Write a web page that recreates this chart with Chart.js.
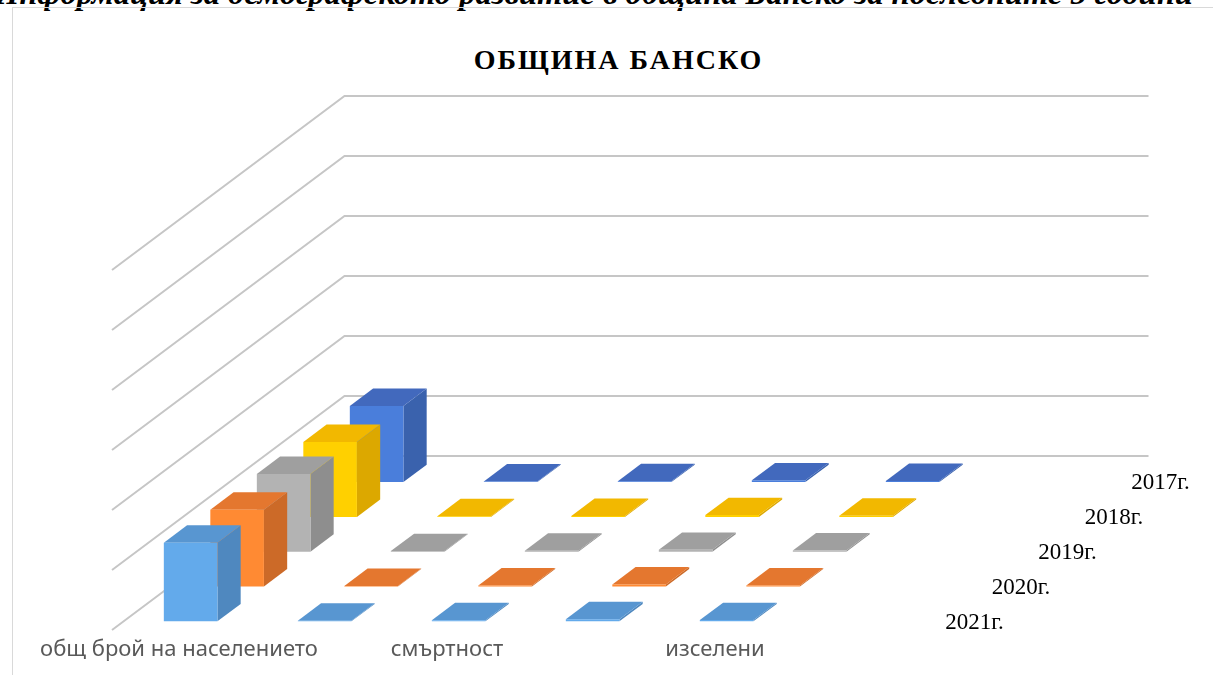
<!DOCTYPE html>
<html>
<head>
<meta charset="utf-8">
<script src="https://cdn.jsdelivr.net/npm/chart.js@4.4.1/dist/chart.umd.min.js"></script>
<style>
    html, body { margin: 0; padding: 0; background: #fff; overflow: hidden; }
    #page { position: relative; width: 1213px; height: 675px; overflow: hidden; }
    #heading { position: absolute; left: -6px; top: -25px; line-height: 33px; white-space: nowrap; font: bold italic 32.5px "Liberation Serif", serif; color: #000; }
    #frame { position: absolute; left: 12px; top: 7px; width: 1300px; height: 800px; border: 1px solid #d9d9d9; }
    #title { position: absolute; left: 0; width: 1237px; top: 44px; line-height: 28px; text-align: center; letter-spacing: 2px; font: bold 28px "Liberation Serif", serif; color: #000; }
    canvas { position: absolute; left: 0; top: 0; }
</style>
</head>
<body>
<div id="page">
    <div id="heading">Информация за демографското развитие в община Банско за последните 5 години</div>
    <div id="frame"></div>
    <div id="title">ОБЩИНА БАНСКО</div>
    <canvas id="chart" width="1213" height="675"></canvas>
</div>
<script>
// categories (only every second one is labelled in the original)
const categories = ['общ брой на населението', 'раждаемост', 'смъртност', 'заселени', 'изселени', 'механичен прираст'];
const years = ['2017г.', '2018г.', '2019г.', '2020г.', '2021г.'];

// values per year, same order as categories
const v2017 = [12700, 115, 150, 290, 200, null];
const v2018 = [12500, 110, 160, 300, 190, null];
const v2019 = [12950, 105, 155, 310, 210, null];
const v2020 = [12800, 100, 175, 350, 180, null];
const v2021 = [13100, 105, 190, 340, 200, null];
const series = [v2017, v2018, v2019, v2020, v2021];

// face colours: front / side / top
const frontColors = ['#4a7edb', '#ffd000', '#b3b3b3', '#ff8a33', '#63aaeb'];
const sideColors = ['#3a62ad', '#dca800', '#8e8e8e', '#cc6a28', '#4f88bf'];
const topColors = ['#4269bd', '#f2b800', '#9f9f9f', '#e4772f', '#5896d1'];

// oblique projection: one depth row moves right and up
const DX = 46.5, DY = -34.8;
const DEPTH = years.length;

function poly(ctx, pts, color) {
    ctx.beginPath();
    ctx.moveTo(pts[0][0], pts[0][1]);
    for (let i = 1; i < pts.length; i++) ctx.lineTo(pts[i][0], pts[i][1]);
    ctx.closePath();
    ctx.fillStyle = color;
    ctx.fill();
}

function drawBox(ctx, x0, x1, yTop, yBase, dF, dB, i) {
    const fx = dF * DX, fy = dF * DY, bx = dB * DX, by = dB * DY;
    poly(ctx, [[x1 + fx, yTop + fy], [x1 + bx, yTop + by], [x1 + bx, yBase + by], [x1 + fx, yBase + fy]], sideColors[i]);
    poly(ctx, [[x0 + fx, yTop + fy], [x1 + fx, yTop + fy], [x1 + bx, yTop + by], [x0 + bx, yTop + by]], topColors[i]);
    poly(ctx, [[x0 + fx, yTop + fy], [x1 + fx, yTop + fy], [x1 + fx, yBase + fy], [x0 + fx, yBase + fy]], frontColors[i]);
}

const walls3d = {
    id: 'walls3d',
    beforeDatasetsDraw(chart) {
        const ctx = chart.ctx;
        const { left, right } = chart.chartArea;
        const y = chart.scales.y;
        let values = (y.ticks || []).map(t => t.value);
        if (!values.length) {
            for (let v = y.min; v <= y.max; v += y.options.ticks.stepSize) values.push(v);
        }
        ctx.save();
        ctx.strokeStyle = '#c6c6c6';
        ctx.lineWidth = 2;
        values.forEach(v => {
            const py = y.getPixelForValue(v);
            ctx.beginPath();
            ctx.moveTo(left, py);
            ctx.lineTo(left + DEPTH * DX, py + DEPTH * DY);
            ctx.lineTo(right + DEPTH * DX, py + DEPTH * DY);
            ctx.stroke();
        });
        ctx.restore();
    },
    afterDatasetsDraw(chart) {
        const ctx = chart.ctx;
        ctx.save();
        // back row (2017) first, front row (2021) last
        for (let i = 0; i < DEPTH; i++) {
            const k = DEPTH - 1 - i;
            const meta = chart.getDatasetMeta(i);
            meta.data.forEach((bar, j) => {
                if (series[i][j] == null) return;
                const p = bar.getProps(['x', 'y', 'base', 'width'], true);
                drawBox(ctx, p.x - p.width / 2, p.x + p.width / 2, p.y, p.base, k + 0.25, k + 0.75, i);
            });
        }
        // depth axis labels
        const { right, bottom } = chart.chartArea;
        ctx.fillStyle = '#000';
        ctx.font = '23px "Liberation Serif", serif';
        ctx.textAlign = 'left';
        ctx.textBaseline = 'middle';
        years.forEach((name, i) => {
            const k = DEPTH - 1 - i;
            ctx.fillText(name, right + (k + 0.5) * DX + 6, bottom + (k + 0.5) * DY + 10);
        });
        ctx.restore();
    }
};

new Chart(document.getElementById('chart'), {
    type: 'bar',
    data: {
        labels: categories,
        datasets: series.map((d, i) => ({
            label: years[i],
            data: d,
            backgroundColor: 'rgba(0,0,0,0)',
            borderWidth: 0
        }))
    },
    options: {
        responsive: false,
        animation: false,
        layout: { padding: { left: 112, right: 297, top: 270, bottom: 0 } },
        datasets: { bar: { grouped: false, barPercentage: 0.4, categoryPercentage: 1 } },
        plugins: { legend: { display: false }, tooltip: { enabled: false }, title: { display: false } },
        scales: {
            x: {
                grid: { display: false, drawTicks: false },
                border: { display: false },
                ticks: {
                    autoSkip: false, maxRotation: 0, padding: 7, color: '#595959',
                    font: { family: 'Noto Sans', size: 22 },
                    callback: (v, i) => (i % 2 === 0 ? categories[i] : '')
                },
                afterFit: s => { s.height = 45; }
            },
            y: { display: false, min: 0, max: 60000, ticks: { stepSize: 10000 } }
        }
    },
    plugins: [walls3d]
});
</script>
</body>
</html>
